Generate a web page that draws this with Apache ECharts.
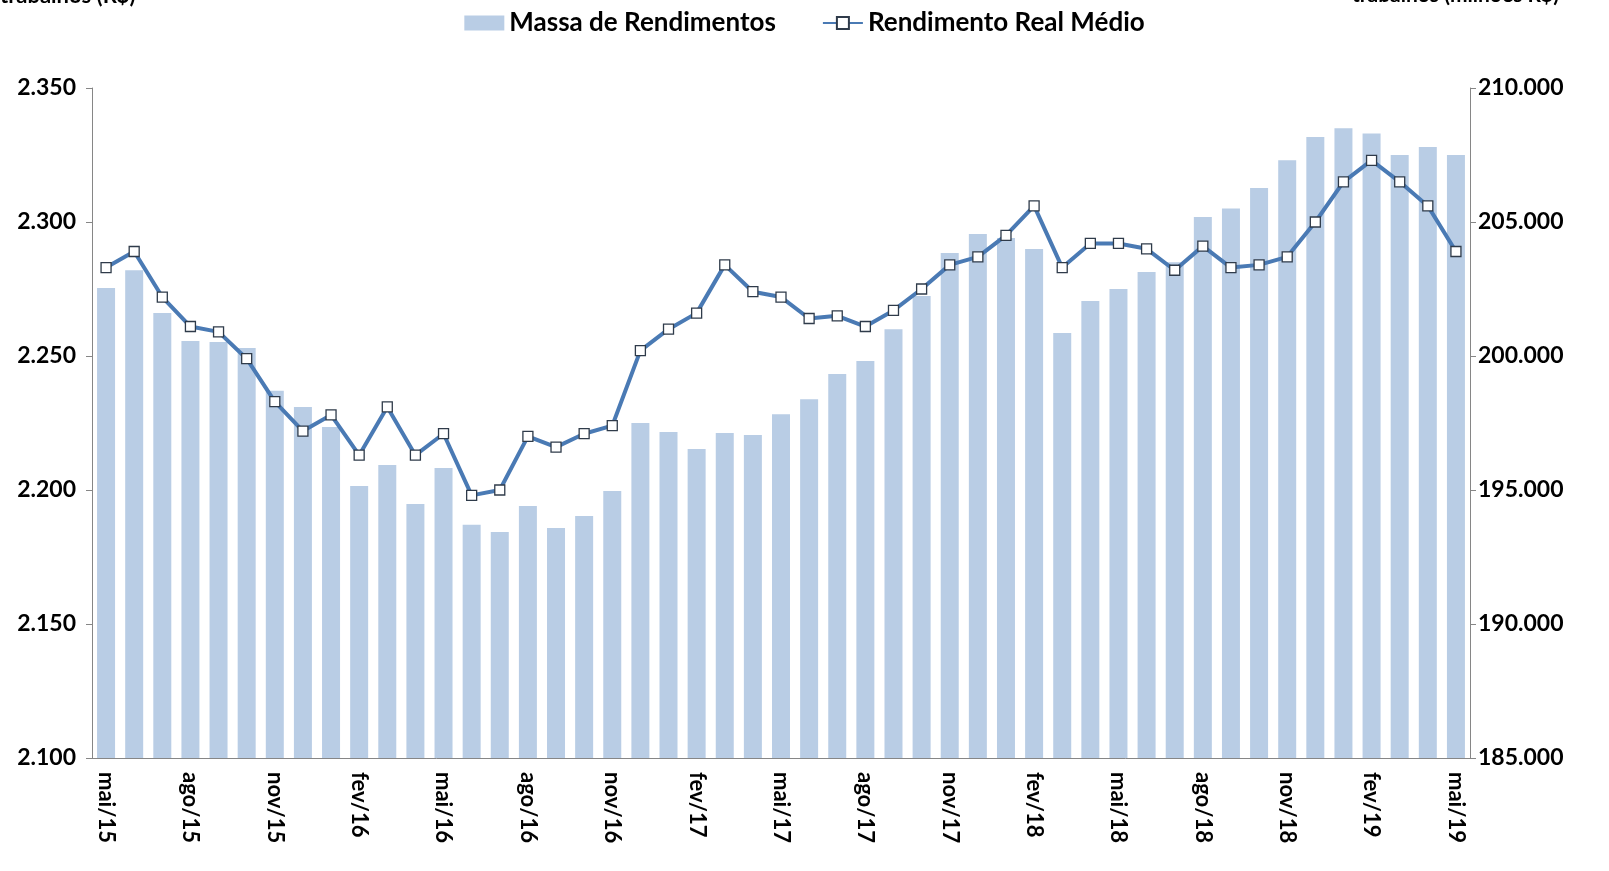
<!DOCTYPE html>
<html>
<head>
<meta charset="utf-8">
<script src="https://cdn.jsdelivr.net/npm/echarts@6/dist/echarts.min.js"></script>
<style>
html,body{margin:0;padding:0;background:#fff;}
#c{width:1609px;height:871px;}
</style>
</head>
<body>
<div id="c"></div>
<script>
const categories = [
  'mai/15','jun/15','jul/15','ago/15','set/15','out/15','nov/15','dez/15',
  'jan/16','fev/16','mar/16','abr/16','mai/16','jun/16','jul/16','ago/16','set/16','out/16','nov/16','dez/16',
  'jan/17','fev/17','mar/17','abr/17','mai/17','jun/17','jul/17','ago/17','set/17','out/17','nov/17','dez/17',
  'jan/18','fev/18','mar/18','abr/18','mai/18','jun/18','jul/18','ago/18','set/18','out/18','nov/18','dez/18',
  'jan/19','fev/19','mar/19','abr/19','mai/19'
];
// Massa de Rendimentos (milhões R$) - right axis
const massaRendimentos = [
  202540, 203200, 201600, 200560, 200520, 200300, 198700, 198100,
  197350, 195150, 195930, 194480, 195820, 193700, 193430, 194400, 193580, 194030, 194960, 197500,
  197160, 196530, 197130, 197050, 197830, 198390, 199330, 199810, 201000, 202240, 203840, 204550,
  204400, 203990, 200860, 202050, 202500, 203130, 203500, 205190, 205500, 206270, 207300, 208170,
  208500, 208300, 207500, 207800, 207500
];
// Rendimento Real Médio (R$) - left axis
const rendimentoMedio = [
  2.283, 2.289, 2.272, 2.261, 2.259, 2.249, 2.233, 2.222,
  2.228, 2.213, 2.231, 2.213, 2.221, 2.198, 2.200, 2.220, 2.216, 2.221, 2.224, 2.252,
  2.260, 2.266, 2.284, 2.274, 2.272, 2.264, 2.265, 2.261, 2.267, 2.275, 2.284, 2.287,
  2.295, 2.306, 2.283, 2.292, 2.292, 2.290, 2.282, 2.291, 2.283, 2.284, 2.287, 2.300,
  2.315, 2.323, 2.315, 2.306, 2.289
];
const seriesNames = ['Massa de Rendimentos', 'Rendimento Real Médio'];
const topTexts = ['trabalhos (R$)', 'trabalhos (milhões R$)'];

const FONT = 'Lato';
const chart = echarts.init(document.getElementById('c'));
function fmtThousands(v){
  return String(Math.round(v)).replace(/\B(?=(\d{3})+(?!\d))/g, '.');
}
chart.setOption({
  animation: false,
  backgroundColor: '#fff',
  textStyle: {fontFamily: FONT},
  graphic: [
    {type:'text', left: 0, top: -15, style:{text: topTexts[0], font: 'bold 22px ' + FONT, fill:'#000'}},
    {type:'text', left: 1352, top: -15, style:{text: topTexts[1], font: 'bold 21px ' + FONT, fill:'#000'}}
  ],
  legend: {
    top: 5,
    left: 'center',
    itemWidth: 40,
    itemHeight: 15,
    itemGap: 46,
    textStyle: {fontSize: 26, fontWeight: 'bold', color: '#000', fontFamily: FONT},
    data: [
      {name: seriesNames[0], icon: 'rect'},
      {name: seriesNames[1]}
    ]
  },
  grid: {left: 92, right: 139, top: 88, bottom: 113},
  xAxis: {
    type: 'category',
    data: categories,
    boundaryGap: true,
    axisLine: {lineStyle: {color: '#868686', width: 1}},
    axisTick: {interval: 2, length: 7, lineStyle: {color: '#868686'}},
    axisLabel: {interval: 2, rotate: -90, margin: 14, fontSize: 22, fontWeight: 'bold', color: '#000', fontFamily: FONT}
  },
  yAxis: [
    {
      type: 'value', min: 2.1, max: 2.35, interval: 0.05,
      splitLine: {show: false},
      axisLine: {show: true, lineStyle: {color: '#868686'}},
      axisTick: {show: true, length: 6, lineStyle: {color: '#868686'}},
      axisLabel: {fontSize: 23, fontWeight: 'bold', color: '#000', margin: 16, fontFamily: FONT,
        formatter: v => v.toFixed(3)}
    },
    {
      type: 'value', min: 185000, max: 210000, interval: 5000,
      position: 'right',
      splitLine: {show: false},
      axisLine: {show: true, lineStyle: {color: '#868686'}},
      axisTick: {show: true, length: 6, lineStyle: {color: '#868686'}},
      axisLabel: {fontSize: 23, fontWeight: 'bold', color: '#000', margin: 8, fontFamily: FONT,
        formatter: v => fmtThousands(v)}
    }
  ],
  series: [
    {
      name: seriesNames[0], type: 'bar', yAxisIndex: 1, data: massaRendimentos,
      barWidth: '64%',
      itemStyle: {color: '#B9CDE5'}
    },
    {
      name: seriesNames[1], type: 'line', yAxisIndex: 0, data: rendimentoMedio,
      symbol: 'rect', symbolSize: 10, showAllSymbol: true,
      lineStyle: {color: '#4A7AB4', width: 4},
      itemStyle: {color: '#fff', borderColor: '#2f3b4a', borderWidth: 1.3},
      z: 5
    }
  ]
});
</script>
</body>
</html>
